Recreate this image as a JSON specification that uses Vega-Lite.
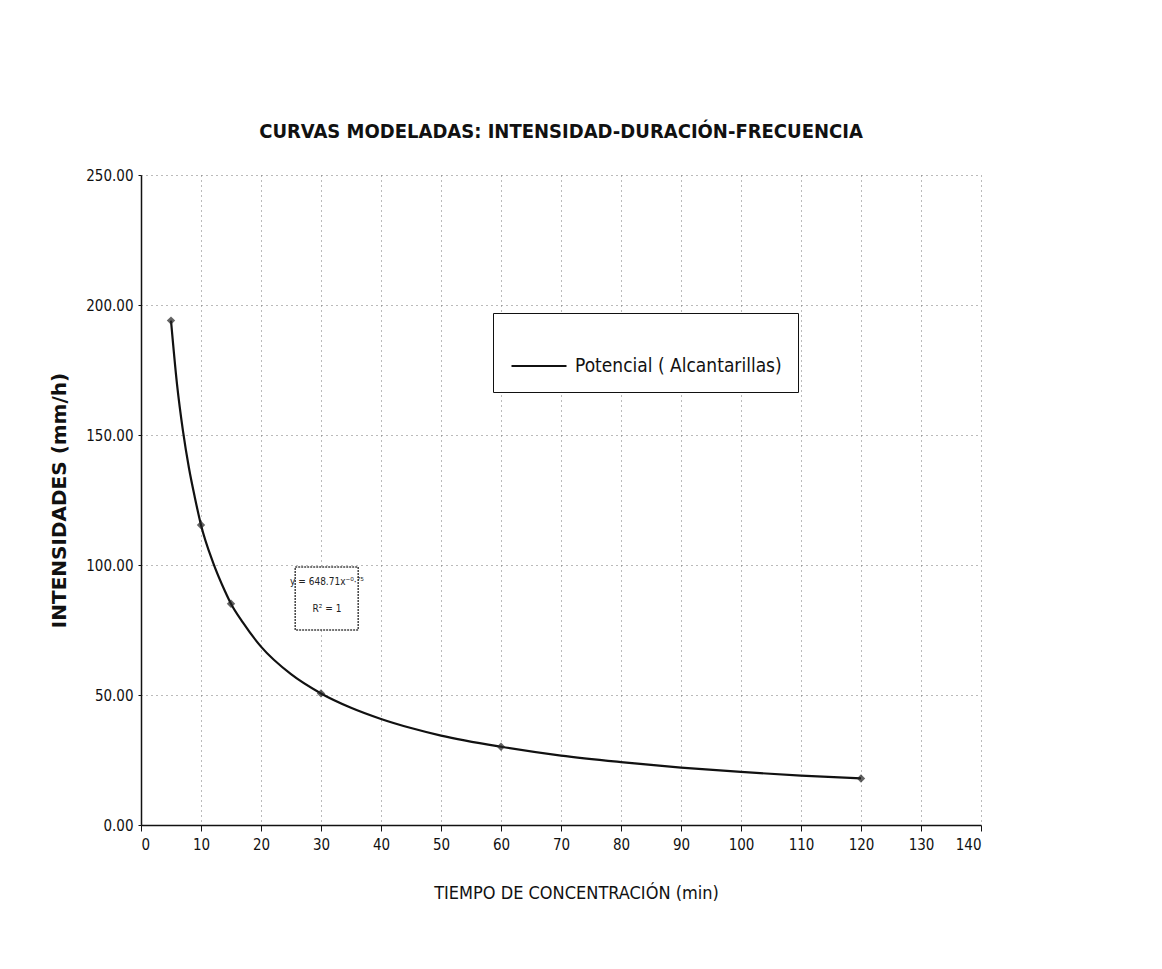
{
  "$schema": "https://vega.github.io/schema/vega-lite/v6.json",
  "width": 840,
  "height": 650,
  "autosize": {"type": "none"},
  "padding": {"left": 141, "top": 175, "right": 181, "bottom": 144},
  "background": "white",
  "title": {
    "text": "CURVAS MODELADAS: INTENSIDAD-DURACIÓN-FRECUENCIA",
    "font": "Liberation Sans Narrow, DejaVu Sans Condensed, sans-serif",
    "fontSize": 20,
    "fontWeight": "bold",
    "color": "#111",
    "anchor": "middle",
    "offset": 26
  },
  "config": {
    "view": {"stroke": null},
    "font": "Liberation Sans Narrow, DejaVu Sans Condensed, sans-serif",
    "axis": {
      "labelFont": "Liberation Sans Narrow, DejaVu Sans Condensed, sans-serif",
      "titleFont": "Liberation Sans Narrow, DejaVu Sans Condensed, sans-serif",
      "labelColor": "#111",
      "titleColor": "#111",
      "domainColor": "#111",
      "tickColor": "#111",
      "gridColor": "#777",
      "gridDash": [1, 4],
      "gridWidth": 1,
      "labelFontSize": 15,
      "domainWidth": 1.5
    }
  },
  "datasets": {
    "curva": [
      {"t": 5, "i": 194.0, "serie": "Potencial ( Alcantarillas)"},
      {"t": 6, "i": 169.6, "serie": "Potencial ( Alcantarillas)"},
      {"t": 7, "i": 151.5, "serie": "Potencial ( Alcantarillas)"},
      {"t": 8, "i": 137.2, "serie": "Potencial ( Alcantarillas)"},
      {"t": 9, "i": 125.7, "serie": "Potencial ( Alcantarillas)"},
      {"t": 10, "i": 115.4, "serie": "Potencial ( Alcantarillas)"},
      {"t": 12, "i": 101.0, "serie": "Potencial ( Alcantarillas)"},
      {"t": 14, "i": 89.9, "serie": "Potencial ( Alcantarillas)"},
      {"t": 15, "i": 85.1, "serie": "Potencial ( Alcantarillas)"},
      {"t": 17, "i": 77.8, "serie": "Potencial ( Alcantarillas)"},
      {"t": 20, "i": 68.6, "serie": "Potencial ( Alcantarillas)"},
      {"t": 25, "i": 58.0, "serie": "Potencial ( Alcantarillas)"},
      {"t": 30, "i": 50.6, "serie": "Potencial ( Alcantarillas)"},
      {"t": 35, "i": 45.1, "serie": "Potencial ( Alcantarillas)"},
      {"t": 40, "i": 40.8, "serie": "Potencial ( Alcantarillas)"},
      {"t": 45, "i": 37.3, "serie": "Potencial ( Alcantarillas)"},
      {"t": 50, "i": 34.4, "serie": "Potencial ( Alcantarillas)"},
      {"t": 60, "i": 30.1, "serie": "Potencial ( Alcantarillas)"},
      {"t": 70, "i": 26.7, "serie": "Potencial ( Alcantarillas)"},
      {"t": 80, "i": 24.2, "serie": "Potencial ( Alcantarillas)"},
      {"t": 90, "i": 22.1, "serie": "Potencial ( Alcantarillas)"},
      {"t": 100, "i": 20.4, "serie": "Potencial ( Alcantarillas)"},
      {"t": 110, "i": 19.0, "serie": "Potencial ( Alcantarillas)"},
      {"t": 120, "i": 17.9, "serie": "Potencial ( Alcantarillas)"}
    ],
    "puntos": [
      {"t": 5, "i": 194.0},
      {"t": 10, "i": 115.4},
      {"t": 15, "i": 85.1},
      {"t": 30, "i": 50.6},
      {"t": 60, "i": 30.1},
      {"t": 120, "i": 17.9}
    ],
    "cuadro": [
      {"x1": 25.7, "x2": 36.2, "y1": 75.0, "y2": 99.2}
    ],
    "ecuacion": [
      {"t": 31.0, "i": 93.5, "txt": "y = 648.71x⁻⁰·⁷⁵"},
      {"t": 31.0, "i": 83.0, "txt": "R² = 1"}
    ]
  },
  "layer": [
    {
      "data": {"name": "cuadro"},
      "mark": {"type": "rect", "fill": "white", "stroke": "#444", "strokeWidth": 1.5, "strokeDash": [2, 1]},
      "encoding": {
        "x": {"field": "x1", "type": "quantitative", "scale": {"domain": [0, 140]}},
        "x2": {"field": "x2"},
        "y": {"field": "y1", "type": "quantitative", "scale": {"domain": [0, 250]}},
        "y2": {"field": "y2"}
      }
    },
    {
      "data": {"name": "curva"},
      "mark": {"type": "line", "strokeWidth": 2.2, "interpolate": "monotone"},
      "encoding": {
        "x": {
          "field": "t", "type": "quantitative",
          "scale": {"domain": [0, 140], "nice": false},
          "axis": {
            "title": "TIEMPO DE CONCENTRACIÓN (min)",
            "titleFontSize": 18, "titleFontWeight": "normal", "titlePadding": 32,
            "titleX": 435, "titleAlign": "center",
            "values": [0, 10, 20, 30, 40, 50, 60, 70, 80, 90, 100, 110, 120, 130, 140],
            "tickSize": 6, "labelPadding": 6, "grid": true
          }
        },
        "y": {
          "field": "i", "type": "quantitative",
          "scale": {"domain": [0, 250], "nice": false},
          "axis": {
            "title": "INTENSIDADES (mm/h)",
            "titleFont": "DejaVu Sans, sans-serif",
            "titleFontSize": 20, "titleFontWeight": "bold", "titlePadding": 16,
            "values": [0, 50, 100, 150, 200, 250], "format": ".2f",
            "tickSize": 3, "labelPadding": 5, "grid": true
          }
        },
        "color": {
          "field": "serie", "type": "nominal",
          "scale": {"range": ["#111"]},
          "legend": {
            "title": " ",
            "titleFontSize": 10,
            "titlePadding": -2,
            "orient": "none",
            "legendX": 352,
            "legendY": 138,
            "padding": 16,
            "symbolOffset": 1,
            "strokeColor": "#111",
            "fillColor": "white",
            "symbolType": "stroke",
            "symbolSize": 3025,
            "symbolStrokeWidth": 2.2,
            "labelFontSize": 19,
            "labelOffset": 7,
            "labelLimit": 400,
            "labelColor": "#111",
            "labelFont": "Liberation Sans Narrow, DejaVu Sans Condensed, sans-serif"
          }
        }
      }
    },
    {
      "data": {"name": "puntos"},
      "mark": {"type": "point", "shape": "diamond", "filled": true, "color": "#222", "size": 70},
      "encoding": {
        "x": {"field": "t", "type": "quantitative"},
        "y": {"field": "i", "type": "quantitative"}
      }
    },
    {
      "data": {"name": "ecuacion"},
      "mark": {"type": "text", "fontSize": 10, "color": "#222", "align": "center", "baseline": "middle"},
      "encoding": {
        "x": {"field": "t", "type": "quantitative"},
        "y": {"field": "i", "type": "quantitative"},
        "text": {"field": "txt"}
      }
    }
  ]
}
